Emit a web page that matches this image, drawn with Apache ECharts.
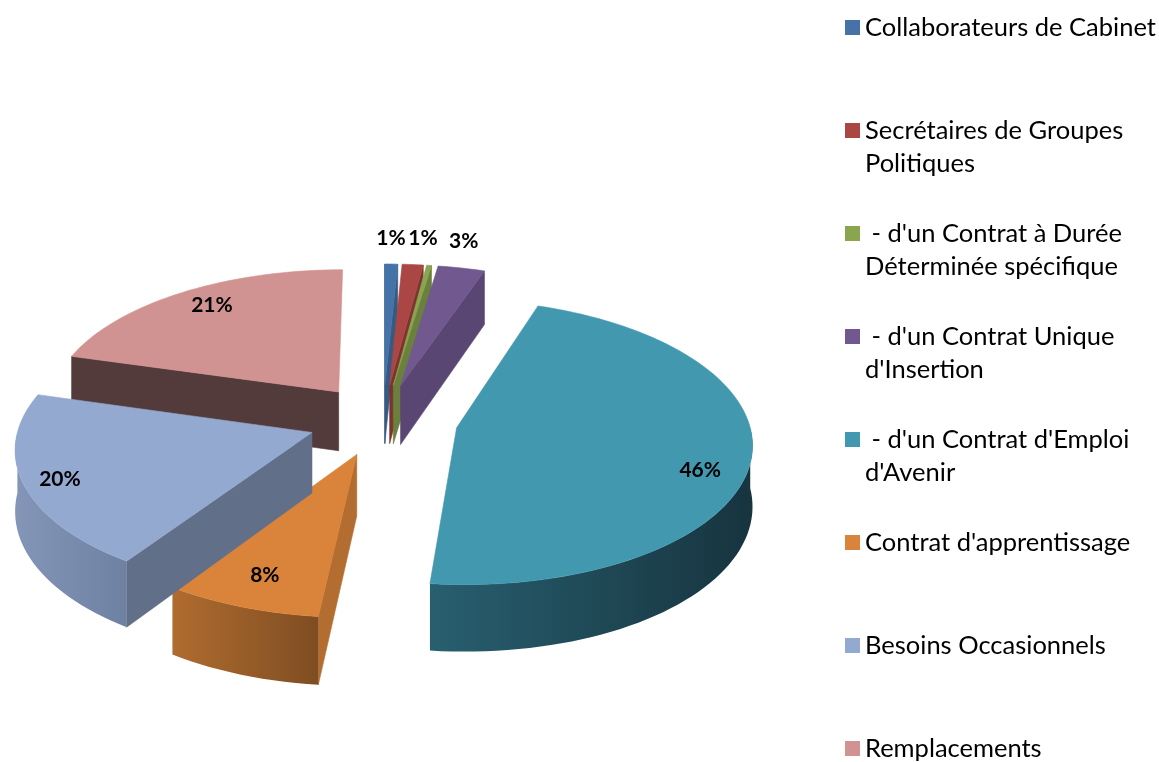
<!DOCTYPE html>
<html><head><meta charset="utf-8">
<style>html,body{margin:0;padding:0;background:#fff}#c{width:1159px;height:762px}</style>
<script src="https://cdn.jsdelivr.net/npm/echarts@6/dist/echarts.min.js"></script>
</head><body><div id="c"></div>
<script>
const categories = ["Collaborateurs de Cabinet","Secrétaires de Groupes\nPolitiques"," - d'un Contrat à Durée\nDéterminée spécifique"," - d'un Contrat Unique\nd'Insertion"," - d'un Contrat d'Emploi\nd'Avenir","Contrat d'apprentissage","Besoins Occasionnels","Remplacements"];
const values = [0.8, 1.3, 0.3, 2.9, 46.4, 7.7, 20, 20.6];
const percentLabels = ["1%","1%","","3%","46%","8%","20%","21%"];
const topColors = ["#4573a7","#aa4644","#89a54e","#71588f","#4198af","#d9833b","#93a9cf","#d19392"];
const faceColors = ["#365a84","#7d3331","#6a803c","#5a4672","#1b3c49","#b36d30","#626f88","#533a3b"];
const rimLeft = ["#3a6291","#8d3a38","#72893f","#5f4a79","#285f6f","#b06c2f","#8396b8","#5a3f40"];
const rimRight = ["#2f5078","#6d2e2c","#5d7033","#4c3c61","#17343f","#7f4d22","#6f81a2","#4a3334"];
const drawOrder = [2, 3, 4, 5, 7, 6, 8, 1];
const labelRadius = [1.235, 1.25, 0, 1.25, 0.85, 0.81, 0.88, 0.84];
const labelTurn = [0, 2, 0, 0.8, 7.5, 0, -1, 2];
const hiddenEndFaces = [false, false, false, false, false, false, false, true];

const CX = 383, CY = 420, R = 292, EXPLODE = 75, TILT = 0.478, PERSP = 2950, H = 60;
const total = values.reduce((a, b) => a + b, 0);
const rad = d => d * Math.PI / 180;
function project(X, Y, Z) {
  const f = 1 / (1 + Y / PERSP);
  return [CX + X * f, CY - (Y * TILT - Z) * f];
}
function sliceRange(i) {
  let s = 0;
  for (let k = 0; k < i; k++) s += values[k];
  return [s / total * 360, (s + values[i]) / total * 360];
}
function pointAt(mid, ang, r, z) {
  const ox = EXPLODE * Math.sin(rad(mid)), oy = EXPLODE * Math.cos(rad(mid));
  return project(ox + r * Math.sin(rad(ang)), oy + r * Math.cos(rad(ang)), z);
}
function area(p) {
  let a = 0;
  for (let i = 0; i < p.length; i++) {
    const q = p[(i + 1) % p.length];
    a += p[i][0] * q[1] - q[0] * p[i][1];
  }
  return a / 2;
}
function poly(points, fill, stroke) {
  return { type: 'polygon', shape: { points }, style: { fill, stroke: stroke || fill, lineWidth: 0.6 } };
}
function makeRender(i) {
  return function (params, api) {
    const [a0, a1] = sliceRange(i);
    const mid = (a0 + a1) / 2;
    const children = [];
    const tipT = pointAt(mid, 0, 0, 0), tipB = pointAt(mid, 0, 0, H);
    [a0, a1].forEach((a, idx) => {
      const face = [tipT, pointAt(mid, a, R, 0), pointAt(mid, a, R, H), tipB];
      const visible = idx === 0 ? area(face) < 0 : (area(face) > 0 && !hiddenEndFaces[i]);
      if (visible) children.push(poly(face, faceColors[i]));
    });
    const r0 = Math.max(a0, 90), r1 = Math.min(a1, 270);
    if (r1 > r0) {
      const top = [], bot = [];
      const n = Math.max(4, Math.ceil((r1 - r0) / 2));
      for (let k = 0; k <= n; k++) {
        const a = r0 + (r1 - r0) * k / n;
        top.push(pointAt(mid, a, R, 0));
        bot.unshift(pointAt(mid, a, R, H));
      }
      children.push({
        type: 'polygon', shape: { points: top.concat(bot) },
        style: { fill: new echarts.graphic.LinearGradient(0, 0, 1, 0, [
          { offset: 0, color: rimLeft[i] }, { offset: 1, color: rimRight[i] }]) }
      });
    }
    const topFace = [tipT];
    const m = Math.max(2, Math.ceil((a1 - a0) / 2));
    for (let k = 0; k <= m; k++) topFace.push(pointAt(mid, a0 + (a1 - a0) * k / m, R, 0));
    children.push(poly(topFace, api.visual('color')));
    if (percentLabels[i]) {
      const p = pointAt(labelRadius[i] > 1 ? 0 : mid, mid + labelTurn[i], R * labelRadius[i], 0);
      children.push({
        type: 'text', z2: 10,
        style: { text: percentLabels[i], x: p[0], y: p[1], align: 'center', verticalAlign: 'middle',
          fontFamily: 'Lato', fontWeight: 'bold', fontSize: 21, fill: '#000' }
      });
    }
    return { type: 'group', children };
  };
}
const series = categories.map((name, i) => ({
  type: 'custom', name, coordinateSystem: 'none', z: drawOrder[i],
  data: [values[i]], renderItem: makeRender(i), silent: true
}));
const chart = echarts.init(document.getElementById('c'), null, { renderer: 'canvas' });
chart.setOption({
  animation: false,
  color: topColors,
  legend: {
    left: 845, top: 11, height: 900, orient: 'vertical', padding: 0, itemGap: 37, itemWidth: 15, itemHeight: 66,
    selectedMode: false,
    icon: 'path://M0 0H0Z M0 9H15V24H0Z M0 66H0Z',
    formatter: n => n.includes('\n') ? n : n + '\n ',
    textStyle: { fontFamily: 'Lato', fontSize: 25.5, lineHeight: 33, color: '#000' },
    itemStyle: { borderWidth: 0 },
    data: categories
  },
  series
});
</script></body></html>
